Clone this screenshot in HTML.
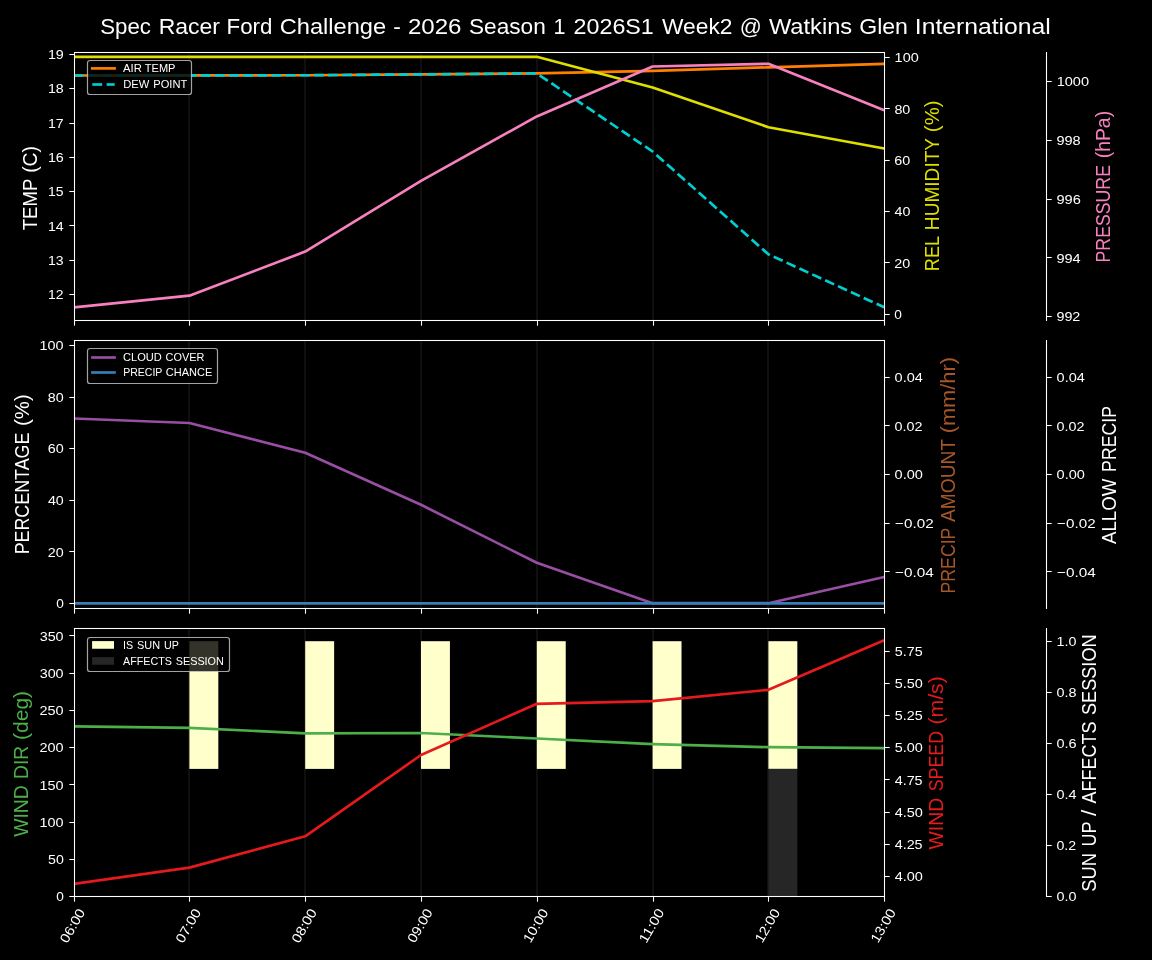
<!DOCTYPE html>
<html><head><meta charset="utf-8"><title>Weather chart</title>
<style>html,body{margin:0;padding:0;background:#000;overflow:hidden}body{width:1152px;height:960px;font-family:"Liberation Sans",sans-serif}</style>
</head><body>
<svg width="1152" height="960" viewBox="0 0 1152 960" font-family="Liberation Sans, sans-serif" style="display:block">
<rect width="1152" height="960" fill="#000"/>
<clipPath id="c0"><rect x="74.5" y="52.5" width="810.0" height="268.0"/></clipPath>
<line x1="189.00" y1="52.50" x2="189.00" y2="320.50" stroke="#0f0f0f" stroke-width="2" />
<line x1="305.00" y1="52.50" x2="305.00" y2="320.50" stroke="#0f0f0f" stroke-width="2" />
<line x1="421.00" y1="52.50" x2="421.00" y2="320.50" stroke="#0f0f0f" stroke-width="2" />
<line x1="537.00" y1="52.50" x2="537.00" y2="320.50" stroke="#0f0f0f" stroke-width="2" />
<line x1="653.00" y1="52.50" x2="653.00" y2="320.50" stroke="#0f0f0f" stroke-width="2" />
<line x1="768.00" y1="52.50" x2="768.00" y2="320.50" stroke="#0f0f0f" stroke-width="2" />
<g clip-path="url(#c0)">
<polyline points="73.60,75.50 189.40,75.40 305.20,75.25 421.00,74.40 536.80,73.40 652.60,70.80 768.40,67.30 884.20,63.80" fill="none" stroke="#ff7f00" stroke-width="2.67" stroke-linejoin="round" />
<polyline points="73.60,75.50 189.40,75.40 305.20,75.25 421.00,74.40 536.80,73.40 652.60,151.50 768.40,254.30 884.20,307.30" fill="none" stroke="#00ced1" stroke-width="2.67" stroke-linejoin="round" stroke-dasharray="9.87 4.27"/>
<polyline points="73.60,56.80 189.40,56.80 305.20,56.80 421.00,56.80 536.80,56.80 652.60,87.50 768.40,127.20 884.20,148.50" fill="none" stroke="#dede00" stroke-width="2.67" stroke-linejoin="round" />
<polyline points="73.60,307.40 189.40,295.70 305.20,251.60 421.00,180.80 536.80,116.40 652.60,66.50 768.40,63.80 884.20,110.30" fill="none" stroke="#f781bf" stroke-width="2.67" stroke-linejoin="round" />
</g>
<rect x="74.5" y="52.5" width="810.0" height="268.0" fill="none" stroke="#fff" stroke-width="1.07"/>
<line x1="1046.50" y1="52.00" x2="1046.50" y2="321.00" stroke="#fff" stroke-width="1.07" />
<line x1="74.50" y1="320.50" x2="74.50" y2="325.70" stroke="#fff" stroke-width="1.07" />
<line x1="189.50" y1="320.50" x2="189.50" y2="325.70" stroke="#fff" stroke-width="1.07" />
<line x1="305.50" y1="320.50" x2="305.50" y2="325.70" stroke="#fff" stroke-width="1.07" />
<line x1="421.50" y1="320.50" x2="421.50" y2="325.70" stroke="#fff" stroke-width="1.07" />
<line x1="537.50" y1="320.50" x2="537.50" y2="325.70" stroke="#fff" stroke-width="1.07" />
<line x1="653.50" y1="320.50" x2="653.50" y2="325.70" stroke="#fff" stroke-width="1.07" />
<line x1="768.50" y1="320.50" x2="768.50" y2="325.70" stroke="#fff" stroke-width="1.07" />
<line x1="884.50" y1="320.50" x2="884.50" y2="325.70" stroke="#fff" stroke-width="1.07" />
<line x1="69.30" y1="294.50" x2="74.50" y2="294.50" stroke="#fff" stroke-width="1.07" />
<line x1="69.30" y1="260.50" x2="74.50" y2="260.50" stroke="#fff" stroke-width="1.07" />
<line x1="69.30" y1="225.50" x2="74.50" y2="225.50" stroke="#fff" stroke-width="1.07" />
<line x1="69.30" y1="191.50" x2="74.50" y2="191.50" stroke="#fff" stroke-width="1.07" />
<line x1="69.30" y1="157.50" x2="74.50" y2="157.50" stroke="#fff" stroke-width="1.07" />
<line x1="69.30" y1="123.50" x2="74.50" y2="123.50" stroke="#fff" stroke-width="1.07" />
<line x1="69.30" y1="88.50" x2="74.50" y2="88.50" stroke="#fff" stroke-width="1.07" />
<line x1="69.30" y1="54.50" x2="74.50" y2="54.50" stroke="#fff" stroke-width="1.07" />
<line x1="884.50" y1="314.50" x2="889.70" y2="314.50" stroke="#fff" stroke-width="1.07" />
<line x1="884.50" y1="262.50" x2="889.70" y2="262.50" stroke="#fff" stroke-width="1.07" />
<line x1="884.50" y1="211.50" x2="889.70" y2="211.50" stroke="#fff" stroke-width="1.07" />
<line x1="884.50" y1="160.50" x2="889.70" y2="160.50" stroke="#fff" stroke-width="1.07" />
<line x1="884.50" y1="108.50" x2="889.70" y2="108.50" stroke="#fff" stroke-width="1.07" />
<line x1="884.50" y1="57.50" x2="889.70" y2="57.50" stroke="#fff" stroke-width="1.07" />
<line x1="1046.50" y1="316.50" x2="1051.70" y2="316.50" stroke="#fff" stroke-width="1.07" />
<line x1="1046.50" y1="257.50" x2="1051.70" y2="257.50" stroke="#fff" stroke-width="1.07" />
<line x1="1046.50" y1="199.50" x2="1051.70" y2="199.50" stroke="#fff" stroke-width="1.07" />
<line x1="1046.50" y1="140.50" x2="1051.70" y2="140.50" stroke="#fff" stroke-width="1.07" />
<line x1="1046.50" y1="81.50" x2="1051.70" y2="81.50" stroke="#fff" stroke-width="1.07" />
<rect x="87.5" y="60.5" width="104.0" height="34.0" rx="2.6" fill="#000" fill-opacity="0.8" stroke="#ccc" stroke-opacity="0.8" stroke-width="1.2"/>
<line x1="90.90" y1="68.40" x2="115.90" y2="68.40" stroke="#ff7f00" stroke-width="2.67" />
<line x1="92.30" y1="84.50" x2="102.20" y2="84.50" stroke="#00ced1" stroke-width="2.67" />
<line x1="106.60" y1="84.50" x2="114.70" y2="84.50" stroke="#00ced1" stroke-width="2.67" />
<clipPath id="c1"><rect x="74.5" y="340.5" width="810.0" height="268.0"/></clipPath>
<line x1="189.00" y1="340.50" x2="189.00" y2="608.50" stroke="#0f0f0f" stroke-width="2" />
<line x1="305.00" y1="340.50" x2="305.00" y2="608.50" stroke="#0f0f0f" stroke-width="2" />
<line x1="421.00" y1="340.50" x2="421.00" y2="608.50" stroke="#0f0f0f" stroke-width="2" />
<line x1="537.00" y1="340.50" x2="537.00" y2="608.50" stroke="#0f0f0f" stroke-width="2" />
<line x1="653.00" y1="340.50" x2="653.00" y2="608.50" stroke="#0f0f0f" stroke-width="2" />
<line x1="768.00" y1="340.50" x2="768.00" y2="608.50" stroke="#0f0f0f" stroke-width="2" />
<g clip-path="url(#c1)">
<polyline points="73.60,418.50 189.40,423.00 305.20,452.80 421.00,504.80 536.80,562.80 652.60,603.20 768.40,603.20 884.20,577.00" fill="none" stroke="#984ea3" stroke-width="2.67" stroke-linejoin="round" />
<polyline points="74.50,603.45 884.50,603.45" fill="none" stroke="#377eb8" stroke-width="2.67" stroke-linejoin="round" />
</g>
<rect x="74.5" y="340.5" width="810.0" height="268.0" fill="none" stroke="#fff" stroke-width="1.07"/>
<line x1="1046.50" y1="340.00" x2="1046.50" y2="609.00" stroke="#fff" stroke-width="1.07" />
<line x1="74.50" y1="608.50" x2="74.50" y2="613.70" stroke="#fff" stroke-width="1.07" />
<line x1="189.50" y1="608.50" x2="189.50" y2="613.70" stroke="#fff" stroke-width="1.07" />
<line x1="305.50" y1="608.50" x2="305.50" y2="613.70" stroke="#fff" stroke-width="1.07" />
<line x1="421.50" y1="608.50" x2="421.50" y2="613.70" stroke="#fff" stroke-width="1.07" />
<line x1="537.50" y1="608.50" x2="537.50" y2="613.70" stroke="#fff" stroke-width="1.07" />
<line x1="653.50" y1="608.50" x2="653.50" y2="613.70" stroke="#fff" stroke-width="1.07" />
<line x1="768.50" y1="608.50" x2="768.50" y2="613.70" stroke="#fff" stroke-width="1.07" />
<line x1="884.50" y1="608.50" x2="884.50" y2="613.70" stroke="#fff" stroke-width="1.07" />
<line x1="69.30" y1="603.50" x2="74.50" y2="603.50" stroke="#fff" stroke-width="1.07" />
<line x1="69.30" y1="551.50" x2="74.50" y2="551.50" stroke="#fff" stroke-width="1.07" />
<line x1="69.30" y1="500.50" x2="74.50" y2="500.50" stroke="#fff" stroke-width="1.07" />
<line x1="69.30" y1="448.50" x2="74.50" y2="448.50" stroke="#fff" stroke-width="1.07" />
<line x1="69.30" y1="397.50" x2="74.50" y2="397.50" stroke="#fff" stroke-width="1.07" />
<line x1="69.30" y1="345.50" x2="74.50" y2="345.50" stroke="#fff" stroke-width="1.07" />
<line x1="884.50" y1="377.50" x2="889.70" y2="377.50" stroke="#fff" stroke-width="1.07" />
<line x1="884.50" y1="425.50" x2="889.70" y2="425.50" stroke="#fff" stroke-width="1.07" />
<line x1="884.50" y1="474.50" x2="889.70" y2="474.50" stroke="#fff" stroke-width="1.07" />
<line x1="884.50" y1="523.50" x2="889.70" y2="523.50" stroke="#fff" stroke-width="1.07" />
<line x1="884.50" y1="571.50" x2="889.70" y2="571.50" stroke="#fff" stroke-width="1.07" />
<line x1="1046.50" y1="377.50" x2="1051.70" y2="377.50" stroke="#fff" stroke-width="1.07" />
<line x1="1046.50" y1="425.50" x2="1051.70" y2="425.50" stroke="#fff" stroke-width="1.07" />
<line x1="1046.50" y1="474.50" x2="1051.70" y2="474.50" stroke="#fff" stroke-width="1.07" />
<line x1="1046.50" y1="523.50" x2="1051.70" y2="523.50" stroke="#fff" stroke-width="1.07" />
<line x1="1046.50" y1="571.50" x2="1051.70" y2="571.50" stroke="#fff" stroke-width="1.07" />
<rect x="87.5" y="348.5" width="130.0" height="35.0" rx="2.6" fill="#000" fill-opacity="0.8" stroke="#ccc" stroke-opacity="0.8" stroke-width="1.2"/>
<line x1="91.10" y1="357.50" x2="115.80" y2="357.50" stroke="#984ea3" stroke-width="2.67" />
<line x1="91.10" y1="372.50" x2="115.80" y2="372.50" stroke="#377eb8" stroke-width="2.67" />
<clipPath id="c2"><rect x="74.5" y="628.5" width="810.0" height="268.0"/></clipPath>
<line x1="189.00" y1="628.50" x2="189.00" y2="896.50" stroke="#0f0f0f" stroke-width="2" />
<line x1="305.00" y1="628.50" x2="305.00" y2="896.50" stroke="#0f0f0f" stroke-width="2" />
<line x1="421.00" y1="628.50" x2="421.00" y2="896.50" stroke="#0f0f0f" stroke-width="2" />
<line x1="537.00" y1="628.50" x2="537.00" y2="896.50" stroke="#0f0f0f" stroke-width="2" />
<line x1="653.00" y1="628.50" x2="653.00" y2="896.50" stroke="#0f0f0f" stroke-width="2" />
<line x1="768.00" y1="628.50" x2="768.00" y2="896.50" stroke="#0f0f0f" stroke-width="2" />
<g clip-path="url(#c2)">
<rect x="189.40" y="641.2" width="28.93" height="127.7" fill="#ffffcb"/>
<rect x="305.20" y="641.2" width="28.93" height="127.7" fill="#ffffcb"/>
<rect x="421.00" y="641.2" width="28.93" height="127.7" fill="#ffffcb"/>
<rect x="536.80" y="641.2" width="28.93" height="127.7" fill="#ffffcb"/>
<rect x="652.60" y="641.2" width="28.93" height="127.7" fill="#ffffcb"/>
<rect x="768.40" y="641.2" width="28.93" height="127.7" fill="#ffffcb"/>
<rect x="768.40" y="768.9" width="28.93" height="127.6" fill="#262626"/>
<polyline points="73.60,726.30 189.40,727.90 305.20,733.30 421.00,733.00 536.80,738.50 652.60,744.10 768.40,747.20 884.20,748.10" fill="none" stroke="#4daf4a" stroke-width="2.67" stroke-linejoin="round" />
<polyline points="73.60,884.00 189.40,867.60 305.20,836.30 421.00,755.00 536.80,703.80 652.60,701.20 768.40,689.80 884.20,640.30" fill="none" stroke="#e41a1c" stroke-width="2.67" stroke-linejoin="round" />
</g>
<rect x="74.5" y="628.5" width="810.0" height="268.0" fill="none" stroke="#fff" stroke-width="1.07"/>
<line x1="1046.50" y1="628.00" x2="1046.50" y2="897.00" stroke="#fff" stroke-width="1.07" />
<line x1="74.50" y1="896.50" x2="74.50" y2="901.70" stroke="#fff" stroke-width="1.07" />
<line x1="189.50" y1="896.50" x2="189.50" y2="901.70" stroke="#fff" stroke-width="1.07" />
<line x1="305.50" y1="896.50" x2="305.50" y2="901.70" stroke="#fff" stroke-width="1.07" />
<line x1="421.50" y1="896.50" x2="421.50" y2="901.70" stroke="#fff" stroke-width="1.07" />
<line x1="537.50" y1="896.50" x2="537.50" y2="901.70" stroke="#fff" stroke-width="1.07" />
<line x1="653.50" y1="896.50" x2="653.50" y2="901.70" stroke="#fff" stroke-width="1.07" />
<line x1="768.50" y1="896.50" x2="768.50" y2="901.70" stroke="#fff" stroke-width="1.07" />
<line x1="884.50" y1="896.50" x2="884.50" y2="901.70" stroke="#fff" stroke-width="1.07" />
<line x1="69.30" y1="896.50" x2="74.50" y2="896.50" stroke="#fff" stroke-width="1.07" />
<line x1="69.30" y1="859.50" x2="74.50" y2="859.50" stroke="#fff" stroke-width="1.07" />
<line x1="69.30" y1="822.50" x2="74.50" y2="822.50" stroke="#fff" stroke-width="1.07" />
<line x1="69.30" y1="784.50" x2="74.50" y2="784.50" stroke="#fff" stroke-width="1.07" />
<line x1="69.30" y1="747.50" x2="74.50" y2="747.50" stroke="#fff" stroke-width="1.07" />
<line x1="69.30" y1="710.50" x2="74.50" y2="710.50" stroke="#fff" stroke-width="1.07" />
<line x1="69.30" y1="673.50" x2="74.50" y2="673.50" stroke="#fff" stroke-width="1.07" />
<line x1="69.30" y1="635.50" x2="74.50" y2="635.50" stroke="#fff" stroke-width="1.07" />
<line x1="884.50" y1="876.50" x2="889.70" y2="876.50" stroke="#fff" stroke-width="1.07" />
<line x1="884.50" y1="844.50" x2="889.70" y2="844.50" stroke="#fff" stroke-width="1.07" />
<line x1="884.50" y1="812.50" x2="889.70" y2="812.50" stroke="#fff" stroke-width="1.07" />
<line x1="884.50" y1="779.50" x2="889.70" y2="779.50" stroke="#fff" stroke-width="1.07" />
<line x1="884.50" y1="747.50" x2="889.70" y2="747.50" stroke="#fff" stroke-width="1.07" />
<line x1="884.50" y1="715.50" x2="889.70" y2="715.50" stroke="#fff" stroke-width="1.07" />
<line x1="884.50" y1="683.50" x2="889.70" y2="683.50" stroke="#fff" stroke-width="1.07" />
<line x1="884.50" y1="651.50" x2="889.70" y2="651.50" stroke="#fff" stroke-width="1.07" />
<line x1="1046.50" y1="896.50" x2="1051.70" y2="896.50" stroke="#fff" stroke-width="1.07" />
<line x1="1046.50" y1="845.50" x2="1051.70" y2="845.50" stroke="#fff" stroke-width="1.07" />
<line x1="1046.50" y1="794.50" x2="1051.70" y2="794.50" stroke="#fff" stroke-width="1.07" />
<line x1="1046.50" y1="743.50" x2="1051.70" y2="743.50" stroke="#fff" stroke-width="1.07" />
<line x1="1046.50" y1="692.50" x2="1051.70" y2="692.50" stroke="#fff" stroke-width="1.07" />
<line x1="1046.50" y1="641.50" x2="1051.70" y2="641.50" stroke="#fff" stroke-width="1.07" />
<rect x="87.5" y="637.5" width="142.0" height="34.0" rx="2.6" fill="#000" fill-opacity="0.8" stroke="#ccc" stroke-opacity="0.8" stroke-width="1.2"/>
<rect x="92.1" y="641.1" width="21.9" height="7.65" fill="#ffffcb"/>
<rect x="92.1" y="657.1" width="21.9" height="7.65" fill="#262626"/>
<g style="will-change:transform">
<g font-size="13.47" fill="#fff"><text x="47.94" y="299.25" textLength="15.50" lengthAdjust="spacingAndGlyphs">12</text></g>
<g font-size="13.47" fill="#fff"><text x="47.94" y="264.95" textLength="15.69" lengthAdjust="spacingAndGlyphs">13</text></g>
<g font-size="13.47" fill="#fff"><text x="47.93" y="230.65" textLength="15.81" lengthAdjust="spacingAndGlyphs">14</text></g>
<g font-size="13.47" fill="#fff"><text x="47.94" y="196.35" textLength="15.59" lengthAdjust="spacingAndGlyphs">15</text></g>
<g font-size="13.47" fill="#fff"><text x="47.92" y="162.05" textLength="15.93" lengthAdjust="spacingAndGlyphs">16</text></g>
<g font-size="13.47" fill="#fff"><text x="47.93" y="127.75" textLength="15.70" lengthAdjust="spacingAndGlyphs">17</text></g>
<g font-size="13.47" fill="#fff"><text x="47.93" y="93.45" textLength="15.83" lengthAdjust="spacingAndGlyphs">18</text></g>
<g font-size="13.47" fill="#fff"><text x="47.92" y="59.15" textLength="15.89" lengthAdjust="spacingAndGlyphs">19</text></g>
<g font-size="13.47" fill="#fff"><text x="894.34" y="318.90" textLength="7.60" lengthAdjust="spacingAndGlyphs">0</text></g>
<g font-size="13.47" fill="#fff"><text x="894.39" y="267.55" textLength="15.93" lengthAdjust="spacingAndGlyphs">20</text></g>
<g font-size="13.47" fill="#fff"><text x="894.47" y="216.20" textLength="15.85" lengthAdjust="spacingAndGlyphs">40</text></g>
<g font-size="13.47" fill="#fff"><text x="894.34" y="164.85" textLength="15.98" lengthAdjust="spacingAndGlyphs">60</text></g>
<g font-size="13.47" fill="#fff"><text x="894.40" y="113.50" textLength="15.92" lengthAdjust="spacingAndGlyphs">80</text></g>
<g font-size="13.47" fill="#fff"><text x="894.61" y="62.15" textLength="24.08" lengthAdjust="spacingAndGlyphs">100</text></g>
<g font-size="13.47" fill="#fff"><text x="1056.42" y="321.45" textLength="23.96" lengthAdjust="spacingAndGlyphs">992</text></g>
<g font-size="13.47" fill="#fff"><text x="1056.42" y="262.65" textLength="24.24" lengthAdjust="spacingAndGlyphs">994</text></g>
<g font-size="13.47" fill="#fff"><text x="1056.42" y="203.85" textLength="24.35" lengthAdjust="spacingAndGlyphs">996</text></g>
<g font-size="13.47" fill="#fff"><text x="1056.42" y="145.05" textLength="24.26" lengthAdjust="spacingAndGlyphs">998</text></g>
<g font-size="13.47" fill="#fff"><text x="1056.73" y="86.25" textLength="32.32" lengthAdjust="spacingAndGlyphs">1000</text></g>
<g font-size="19.6" fill="#fff" transform="rotate(-90 37.20 187.70)"><text x="-5.34" y="187.70" textLength="51.47" lengthAdjust="spacingAndGlyphs">TEMP</text><text x="52.04" y="187.70" textLength="26.80" lengthAdjust="spacingAndGlyphs">(C)</text></g>
<g font-size="19.6" fill="#dede00" transform="rotate(-90 939.20 185.80)"><text x="853.82" y="185.80" textLength="35.39" lengthAdjust="spacingAndGlyphs">REL</text><text x="894.85" y="185.80" textLength="92.25" lengthAdjust="spacingAndGlyphs">HUMIDITY</text><text x="992.89" y="185.80" textLength="31.60" lengthAdjust="spacingAndGlyphs">(%)</text></g>
<g font-size="19.6" fill="#f781bf" transform="rotate(-90 1110.00 186.60)"><text x="1034.16" y="186.60" textLength="97.41" lengthAdjust="spacingAndGlyphs">PRESSURE</text><text x="1138.30" y="186.60" textLength="47.42" lengthAdjust="spacingAndGlyphs">(hPa)</text></g>
<g font-size="11.44" fill="#fff"><text x="123.07" y="71.70" textLength="18.79" lengthAdjust="spacingAndGlyphs">AIR</text><text x="144.84" y="71.70" textLength="30.64" lengthAdjust="spacingAndGlyphs">TEMP</text></g>
<g font-size="11.44" fill="#fff"><text x="123.14" y="87.85" textLength="26.11" lengthAdjust="spacingAndGlyphs">DEW</text><text x="153.24" y="87.85" textLength="33.99" lengthAdjust="spacingAndGlyphs">POINT</text></g>
<g font-size="13.47" fill="#fff"><text x="56.26" y="608.10" textLength="7.60" lengthAdjust="spacingAndGlyphs">0</text></g>
<g font-size="13.47" fill="#fff"><text x="47.82" y="556.56" textLength="15.93" lengthAdjust="spacingAndGlyphs">20</text></g>
<g font-size="13.47" fill="#fff"><text x="47.90" y="505.02" textLength="15.85" lengthAdjust="spacingAndGlyphs">40</text></g>
<g font-size="13.47" fill="#fff"><text x="47.78" y="453.48" textLength="15.98" lengthAdjust="spacingAndGlyphs">60</text></g>
<g font-size="13.47" fill="#fff"><text x="47.83" y="401.94" textLength="15.92" lengthAdjust="spacingAndGlyphs">80</text></g>
<g font-size="13.47" fill="#fff"><text x="39.56" y="350.40" textLength="24.08" lengthAdjust="spacingAndGlyphs">100</text></g>
<g font-size="13.47" fill="#fff"><text x="894.63" y="381.79" textLength="28.21" lengthAdjust="spacingAndGlyphs">0.04</text></g>
<g font-size="13.47" fill="#fff"><text x="894.63" y="430.52" textLength="27.93" lengthAdjust="spacingAndGlyphs">0.02</text></g>
<g font-size="13.47" fill="#fff"><text x="894.63" y="479.25" textLength="28.23" lengthAdjust="spacingAndGlyphs">0.00</text></g>
<g font-size="13.47" fill="#fff"><text x="895.13" y="527.98" textLength="38.47" lengthAdjust="spacingAndGlyphs">−0.02</text></g>
<g font-size="13.47" fill="#fff"><text x="895.14" y="576.71" textLength="38.73" lengthAdjust="spacingAndGlyphs">−0.04</text></g>
<g font-size="13.47" fill="#fff"><text x="1056.63" y="381.79" textLength="28.21" lengthAdjust="spacingAndGlyphs">0.04</text></g>
<g font-size="13.47" fill="#fff"><text x="1056.63" y="430.52" textLength="27.93" lengthAdjust="spacingAndGlyphs">0.02</text></g>
<g font-size="13.47" fill="#fff"><text x="1056.63" y="479.25" textLength="28.23" lengthAdjust="spacingAndGlyphs">0.00</text></g>
<g font-size="13.47" fill="#fff"><text x="1057.13" y="527.98" textLength="38.47" lengthAdjust="spacingAndGlyphs">−0.02</text></g>
<g font-size="13.47" fill="#fff"><text x="1057.14" y="576.71" textLength="38.73" lengthAdjust="spacingAndGlyphs">−0.04</text></g>
<g font-size="19.6" fill="#fff" transform="rotate(-90 29.20 474.30)"><text x="-50.87" y="474.30" textLength="121.78" lengthAdjust="spacingAndGlyphs">PERCENTAGE</text><text x="77.62" y="474.30" textLength="31.60" lengthAdjust="spacingAndGlyphs">(%)</text></g>
<g font-size="19.6" fill="#a65628" transform="rotate(-90 955.00 475.30)"><text x="836.83" y="475.30" textLength="65.82" lengthAdjust="spacingAndGlyphs">PRECIP</text><text x="908.37" y="475.30" textLength="82.95" lengthAdjust="spacingAndGlyphs">AMOUNT</text><text x="997.02" y="475.30" textLength="76.22" lengthAdjust="spacingAndGlyphs">(mm/hr)</text></g>
<g font-size="19.6" fill="#fff" transform="rotate(-90 1115.80 475.30)"><text x="1047.02" y="475.30" textLength="65.41" lengthAdjust="spacingAndGlyphs">ALLOW</text><text x="1119.22" y="475.30" textLength="65.82" lengthAdjust="spacingAndGlyphs">PRECIP</text></g>
<g font-size="11.44" fill="#fff"><text x="123.08" y="361.10" textLength="38.78" lengthAdjust="spacingAndGlyphs">CLOUD</text><text x="165.60" y="361.10" textLength="38.79" lengthAdjust="spacingAndGlyphs">COVER</text></g>
<g font-size="11.44" fill="#fff"><text x="123.20" y="375.90" textLength="39.18" lengthAdjust="spacingAndGlyphs">PRECIP</text><text x="165.79" y="375.90" textLength="46.46" lengthAdjust="spacingAndGlyphs">CHANCE</text></g>
<g font-size="13.47" fill="#fff"><text x="56.26" y="901.25" textLength="7.60" lengthAdjust="spacingAndGlyphs">0</text></g>
<g font-size="13.47" fill="#fff"><text x="48.02" y="864.03" textLength="15.73" lengthAdjust="spacingAndGlyphs">50</text></g>
<g font-size="13.47" fill="#fff"><text x="39.56" y="826.81" textLength="24.08" lengthAdjust="spacingAndGlyphs">100</text></g>
<g font-size="13.47" fill="#fff"><text x="39.56" y="789.58" textLength="24.08" lengthAdjust="spacingAndGlyphs">150</text></g>
<g font-size="13.47" fill="#fff"><text x="39.46" y="752.36" textLength="24.17" lengthAdjust="spacingAndGlyphs">200</text></g>
<g font-size="13.47" fill="#fff"><text x="39.46" y="715.14" textLength="24.17" lengthAdjust="spacingAndGlyphs">250</text></g>
<g font-size="13.47" fill="#fff"><text x="39.65" y="677.92" textLength="23.98" lengthAdjust="spacingAndGlyphs">300</text></g>
<g font-size="13.47" fill="#fff"><text x="39.65" y="640.70" textLength="23.98" lengthAdjust="spacingAndGlyphs">350</text></g>
<g font-size="13.47" fill="#fff"><text x="894.65" y="881.25" textLength="28.20" lengthAdjust="spacingAndGlyphs">4.00</text></g>
<g font-size="13.47" fill="#fff"><text x="894.65" y="849.05" textLength="27.98" lengthAdjust="spacingAndGlyphs">4.25</text></g>
<g font-size="13.47" fill="#fff"><text x="894.65" y="816.85" textLength="28.20" lengthAdjust="spacingAndGlyphs">4.50</text></g>
<g font-size="13.47" fill="#fff"><text x="894.65" y="784.65" textLength="27.98" lengthAdjust="spacingAndGlyphs">4.75</text></g>
<g font-size="13.47" fill="#fff"><text x="894.76" y="752.45" textLength="28.09" lengthAdjust="spacingAndGlyphs">5.00</text></g>
<g font-size="13.47" fill="#fff"><text x="894.76" y="720.25" textLength="27.87" lengthAdjust="spacingAndGlyphs">5.25</text></g>
<g font-size="13.47" fill="#fff"><text x="894.76" y="688.05" textLength="28.09" lengthAdjust="spacingAndGlyphs">5.50</text></g>
<g font-size="13.47" fill="#fff"><text x="894.76" y="655.85" textLength="27.87" lengthAdjust="spacingAndGlyphs">5.75</text></g>
<g font-size="13.47" fill="#fff"><text x="1056.50" y="901.25" textLength="19.99" lengthAdjust="spacingAndGlyphs">0.0</text></g>
<g font-size="13.47" fill="#fff"><text x="1056.51" y="850.20" textLength="19.68" lengthAdjust="spacingAndGlyphs">0.2</text></g>
<g font-size="13.47" fill="#fff"><text x="1056.51" y="799.15" textLength="19.98" lengthAdjust="spacingAndGlyphs">0.4</text></g>
<g font-size="13.47" fill="#fff"><text x="1056.50" y="748.11" textLength="20.09" lengthAdjust="spacingAndGlyphs">0.6</text></g>
<g font-size="13.47" fill="#fff"><text x="1056.50" y="697.06" textLength="20.00" lengthAdjust="spacingAndGlyphs">0.8</text></g>
<g font-size="13.47" fill="#fff"><text x="1056.55" y="646.01" textLength="19.95" lengthAdjust="spacingAndGlyphs">1.0</text></g>
<g font-size="19.6" fill="#4daf4a" transform="rotate(-90 27.70 764.00)"><text x="-45.13" y="764.00" textLength="51.61" lengthAdjust="spacingAndGlyphs">WIND</text><text x="12.76" y="764.00" textLength="33.02" lengthAdjust="spacingAndGlyphs">DIR</text><text x="51.62" y="764.00" textLength="49.24" lengthAdjust="spacingAndGlyphs">(deg)</text></g>
<g font-size="19.6" fill="#e41a1c" transform="rotate(-90 942.90 763.00)"><text x="856.46" y="763.00" textLength="51.61" lengthAdjust="spacingAndGlyphs">WIND</text><text x="914.55" y="763.00" textLength="60.40" lengthAdjust="spacingAndGlyphs">SPEED</text><text x="981.41" y="763.00" textLength="48.24" lengthAdjust="spacingAndGlyphs">(m/s)</text></g>
<g font-size="19.6" fill="#fff" transform="rotate(-90 1095.80 763.10)"><text x="967.06" y="763.10" textLength="38.75" lengthAdjust="spacingAndGlyphs">SUN</text><text x="1012.32" y="763.10" textLength="25.04" lengthAdjust="spacingAndGlyphs">UP</text><text x="1042.94" y="763.10" textLength="6.31" lengthAdjust="spacingAndGlyphs">/</text><text x="1055.29" y="763.10" textLength="82.02" lengthAdjust="spacingAndGlyphs">AFFECTS</text><text x="1143.82" y="763.10" textLength="80.75" lengthAdjust="spacingAndGlyphs">SESSION</text></g>
<g font-size="11.44" fill="#fff"><text x="123.07" y="648.75" textLength="10.15" lengthAdjust="spacingAndGlyphs">IS</text><text x="137.09" y="648.75" textLength="23.06" lengthAdjust="spacingAndGlyphs">SUN</text><text x="164.03" y="648.75" textLength="14.90" lengthAdjust="spacingAndGlyphs">UP</text></g>
<g font-size="11.44" fill="#fff"><text x="123.08" y="664.70" textLength="48.82" lengthAdjust="spacingAndGlyphs">AFFECTS</text><text x="175.77" y="664.70" textLength="48.06" lengthAdjust="spacingAndGlyphs">SESSION</text></g>
<g font-size="13.47" fill="#fff" transform="rotate(-60 72.40 925.60)"><text x="54.04" y="930.35" textLength="36.73" lengthAdjust="spacingAndGlyphs">06:00</text></g>
<g font-size="13.47" fill="#fff" transform="rotate(-60 188.20 925.60)"><text x="169.84" y="930.35" textLength="36.73" lengthAdjust="spacingAndGlyphs">07:00</text></g>
<g font-size="13.47" fill="#fff" transform="rotate(-60 304.00 925.60)"><text x="285.64" y="930.35" textLength="36.73" lengthAdjust="spacingAndGlyphs">08:00</text></g>
<g font-size="13.47" fill="#fff" transform="rotate(-60 419.80 925.60)"><text x="401.44" y="930.35" textLength="36.73" lengthAdjust="spacingAndGlyphs">09:00</text></g>
<g font-size="13.47" fill="#fff" transform="rotate(-60 535.60 925.60)"><text x="517.27" y="930.35" textLength="36.70" lengthAdjust="spacingAndGlyphs">10:00</text></g>
<g font-size="13.47" fill="#fff" transform="rotate(-60 651.40 925.60)"><text x="633.04" y="930.35" textLength="36.74" lengthAdjust="spacingAndGlyphs">11:00</text></g>
<g font-size="13.47" fill="#fff" transform="rotate(-60 767.20 925.60)"><text x="748.87" y="930.35" textLength="36.70" lengthAdjust="spacingAndGlyphs">12:00</text></g>
<g font-size="13.47" fill="#fff" transform="rotate(-60 883.00 925.60)"><text x="864.67" y="930.35" textLength="36.70" lengthAdjust="spacingAndGlyphs">13:00</text></g>
<g font-size="22.19" fill="#fff"><text x="100.19" y="34.35" textLength="50.75" lengthAdjust="spacingAndGlyphs">Spec</text><text x="158.67" y="34.35" textLength="61.27" lengthAdjust="spacingAndGlyphs">Racer</text><text x="226.56" y="34.35" textLength="45.86" lengthAdjust="spacingAndGlyphs">Ford</text><text x="279.66" y="34.35" textLength="106.53" lengthAdjust="spacingAndGlyphs">Challenge</text><text x="393.15" y="34.35" textLength="7.58" lengthAdjust="spacingAndGlyphs">-</text><text x="407.91" y="34.35" textLength="53.61" lengthAdjust="spacingAndGlyphs">2026</text><text x="468.99" y="34.35" textLength="76.76" lengthAdjust="spacingAndGlyphs">Season</text><text x="553.53" y="34.35" textLength="11.96" lengthAdjust="spacingAndGlyphs">1</text><text x="573.59" y="34.35" textLength="80.22" lengthAdjust="spacingAndGlyphs">2026S1</text><text x="662.01" y="34.35" textLength="70.42" lengthAdjust="spacingAndGlyphs">Week2</text><text x="739.86" y="34.35" textLength="22.00" lengthAdjust="spacingAndGlyphs">@</text><text x="768.92" y="34.35" textLength="83.27" lengthAdjust="spacingAndGlyphs">Watkins</text><text x="859.21" y="34.35" textLength="48.75" lengthAdjust="spacingAndGlyphs">Glen</text><text x="914.80" y="34.35" textLength="135.93" lengthAdjust="spacingAndGlyphs">International</text></g>
</g>
</svg>
</body></html>
